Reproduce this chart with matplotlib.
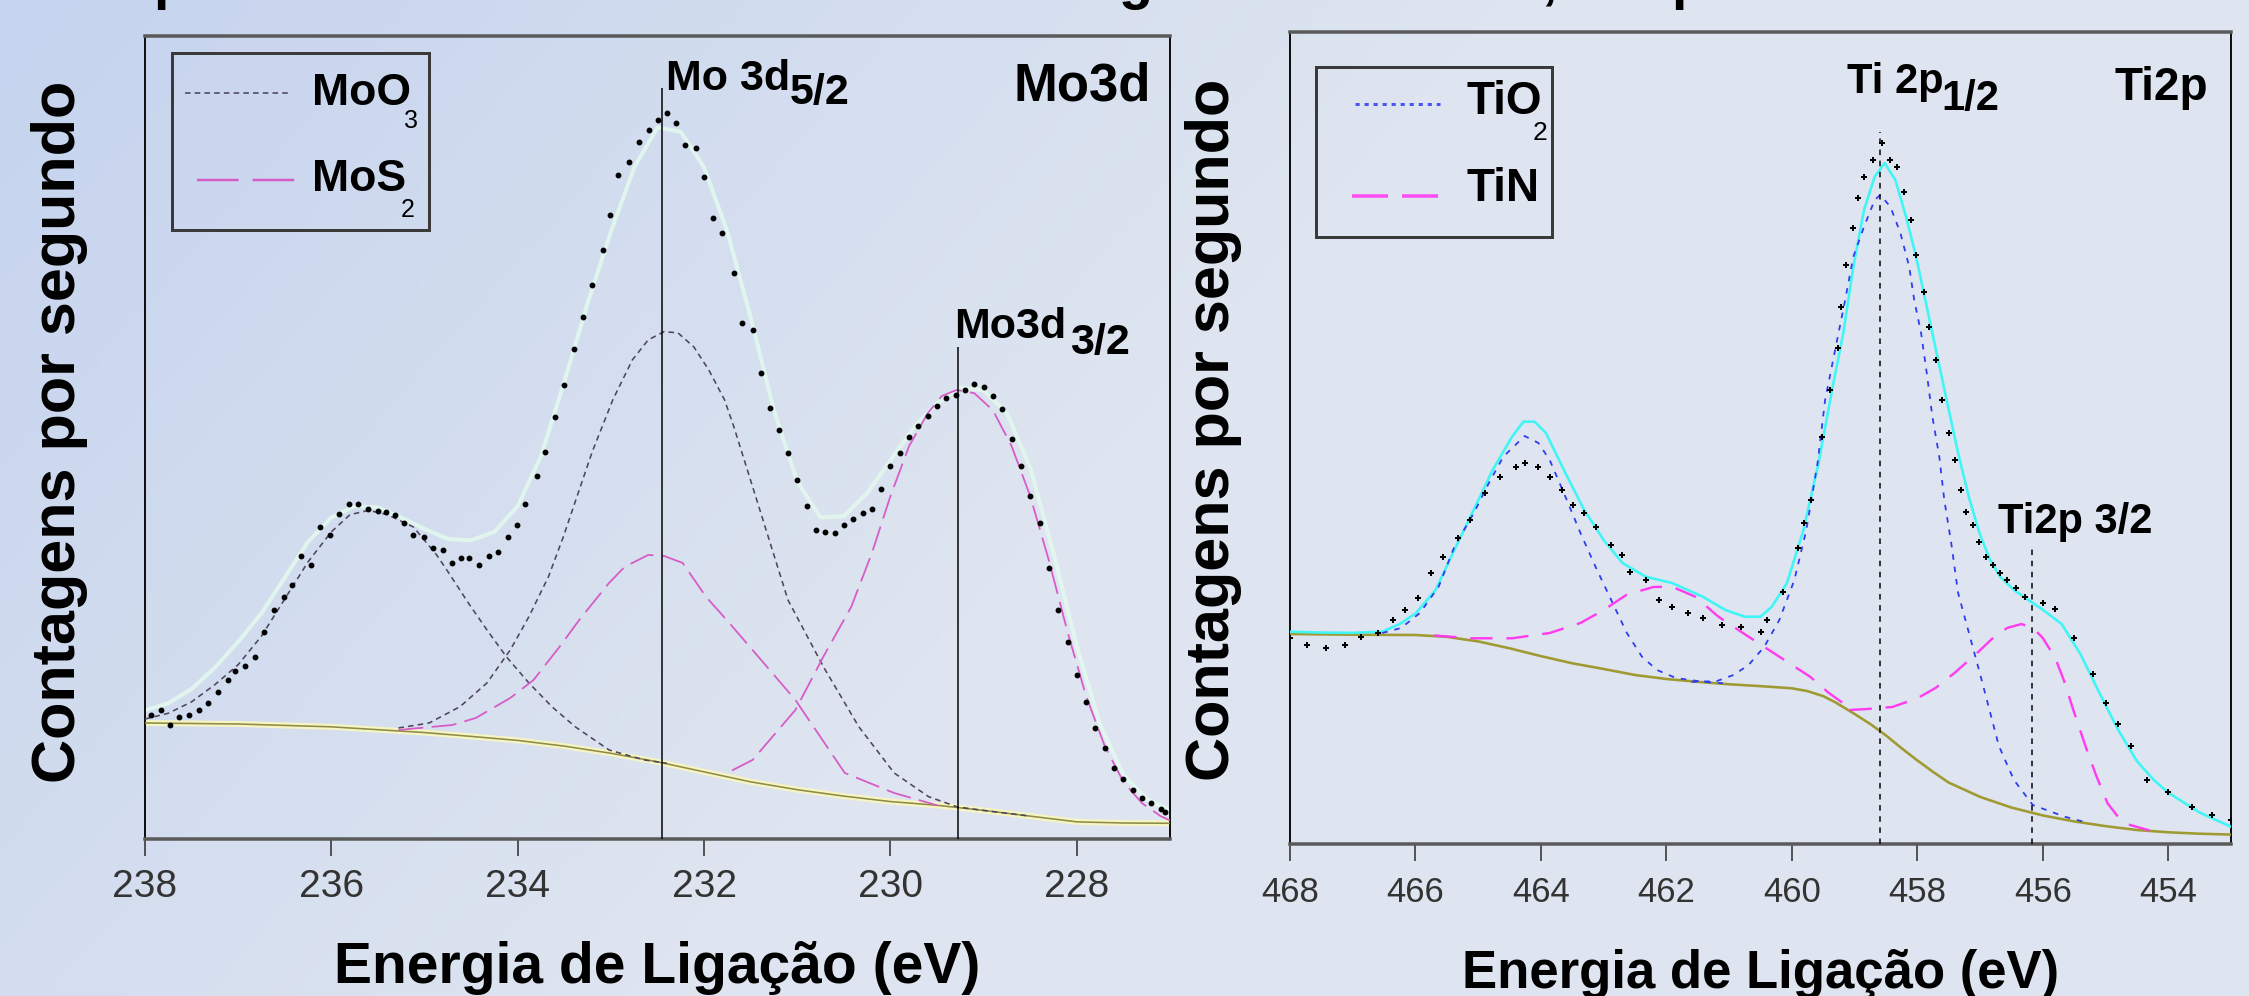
import numpy as np
import matplotlib.pyplot as plt
from matplotlib.patches import Rectangle

plt.rcParams['lines.scale_dashes'] = False

W, H, DPI = 2249, 996, 100
PT = 72 / DPI  # pixels -> points
SANS = ['Liberation Sans', 'DejaVu Sans']

# ================= Mo3d data (binding energy eV, counts) =================
mo_e = [237.94, 237.83, 237.73, 237.63, 237.53, 237.42, 237.32, 237.22, 237.11, 237.03,
        236.93, 236.82, 236.72, 236.62, 236.51, 236.42, 236.33, 236.22, 236.12, 236.02,
        235.92, 235.81, 235.71, 235.61, 235.50, 235.41, 235.32, 235.22, 235.12, 235.01,
        234.91, 234.80, 234.71, 234.61, 234.52, 234.42, 234.31, 234.21, 234.10, 234.01,
        233.92, 233.79, 233.71, 233.60, 233.50, 233.40, 233.30, 233.20, 233.08, 233.01,
        232.92, 232.81, 232.70, 232.59, 232.49, 232.40, 232.30, 232.20, 232.09, 232.00,
        231.90, 231.81, 231.68, 231.59, 231.48, 231.39, 231.29, 231.20, 231.10, 231.00,
        230.90, 230.80, 230.70, 230.60, 230.50, 230.40, 230.30, 230.20, 230.10, 230.00,
        229.90, 229.80, 229.70, 229.60, 229.50, 229.40, 229.30, 229.20, 229.10, 229.00,
        228.90, 228.80, 228.70, 228.60, 228.50, 228.40, 228.30, 228.20, 228.10, 228.00,
        227.90, 227.80, 227.70, 227.60, 227.50, 227.40, 227.30, 227.20, 227.10, 227.05]
mo_counts = [868, 903, 798, 856, 868, 903, 952, 1031, 1113, 1178,
             1211, 1276, 1451, 1603, 1696, 1778, 1981, 1918, 2186, 2128,
             2275, 2345, 2345, 2310, 2298, 2291, 2268, 2212, 2128, 2114,
             2037, 2023, 1932, 1967, 1967, 1918, 1981, 2011, 2114, 2198,
             2345, 2541, 2711, 2950, 3180, 3430, 3650, 3880, 4123, 4368,
             4648, 4741, 4881, 4963, 5033, 5082, 5012, 4858, 4837, 4636,
             4347, 4242, 3962, 3612, 3563, 3262, 3017, 2863, 2700, 2510,
             2330, 2163, 2150, 2140, 2200, 2240, 2280, 2310, 2450, 2610,
             2700, 2810, 2890, 2960, 3030, 3083, 3110, 3140, 3185, 3163,
             3100, 3012, 2800, 2610, 2400, 2209, 1900, 1600, 1380, 1150,
             960, 780, 640, 500, 420, 340, 290, 250, 210, 190]

mo_fit_e = [238.0, 237.75, 237.5, 237.25, 237.0, 236.75, 236.5, 236.25, 236.0, 235.75,
            235.5, 235.25, 235.0, 234.75, 234.5, 234.25, 234.0, 233.75, 233.5, 233.25,
            233.0, 232.75, 232.5, 232.25, 232.0, 231.75, 231.5, 231.25, 231.0, 230.75,
            230.5, 230.25, 230.0, 229.75, 229.5, 229.25, 229.0, 228.75, 228.5, 228.25,
            228.0, 227.75, 227.5, 227.25, 227.0]
mo_fit = [900, 950, 1050, 1200, 1380, 1580, 1830, 2080, 2250, 2330,
          2320, 2250, 2170, 2100, 2090, 2150, 2330, 2680, 3200, 3750,
          4250, 4700, 4980, 4950, 4700, 4250, 3650, 3000, 2500, 2250,
          2260, 2420, 2650, 2880, 3050, 3160, 3140, 2980, 2600, 2000,
          1350, 800, 450, 280, 200]

mo_bg_e = [238.0, 237.0, 236.0, 235.5, 235.0, 234.5, 234.0, 233.5, 233.0, 232.5,
           232.0, 231.5, 231.0, 230.5, 230.0, 229.5, 229.0, 228.5, 228.0, 227.5, 227.0]
mo_bg = [812, 805, 785, 765, 745, 718, 690, 650, 600, 540,
         470, 400, 345, 300, 262, 236, 200, 160, 120, 112, 110]

moo3_a_e = [238.0, 237.75, 237.5, 237.25, 237.0, 236.75, 236.5, 236.25, 236.0, 235.8,
            235.6, 235.4, 235.12, 234.87, 234.74, 234.53, 234.33, 234.12, 233.88, 233.63,
            233.38, 233.02, 232.64, 232.4]
moo3_a = [840, 880, 960, 1080, 1220, 1420, 1680, 1940, 2150, 2270,
          2300, 2270, 2184, 1988, 1862, 1652, 1463, 1274, 1092, 924,
          784, 623, 553, 530]

moo3_b_e = [235.28, 234.95, 234.62, 234.33, 234.08, 233.88, 233.67, 233.51, 233.34, 233.2,
            232.98, 232.77, 232.6, 232.43, 232.28, 232.11, 231.95, 231.78, 231.68, 231.4,
            231.1, 230.72, 230.34, 229.96, 229.59, 229.28, 229.0, 228.5]
moo3_b = [777, 812, 926, 1092, 1323, 1556, 1836, 2116, 2443, 2711,
          3073, 3353, 3493, 3551, 3542, 3444, 3283, 3073, 2884, 2300,
          1673, 1206, 786, 462, 296, 224, 200, 160]

mos2_c_e = [235.28, 234.7, 234.45, 234.08, 233.83, 233.55, 233.34, 233.02, 232.85, 232.6,
            232.43, 232.23, 231.98, 231.73, 231.48, 231.02, 230.49, 229.96, 229.5]
mos2_c = [763, 798, 847, 987, 1113, 1346, 1533, 1792, 1906, 1988,
          1981, 1932, 1696, 1512, 1323, 973, 462, 322, 236]

mos2_d_e = [231.7, 231.48, 231.02, 230.72, 230.42, 230.2, 230.0, 229.8, 229.6, 229.45,
            229.29, 229.1, 228.9, 228.7, 228.5, 228.3, 228.1, 227.9, 227.7, 227.5,
            227.3, 227.1, 227.0]
mos2_d = [480, 553, 903, 1276, 1626, 2000, 2400, 2750, 2980, 3100,
          3143, 3120, 3000, 2750, 2400, 1950, 1450, 1000, 650, 400,
          250, 160, 130]

mo_peak_e = [232.45, 229.28]
mo_peak_top = [5257, 3444]
mo_ticks = [238, 236, 234, 232, 230, 228]

# ================= Ti2p data =================
ti_e = [468.0, 467.73, 467.43, 467.12, 466.87, 466.6, 466.36, 466.17, 465.96, 465.75,
        465.56, 465.32, 465.13, 464.89, 464.65, 464.4, 464.26, 464.04, 463.86, 463.67,
        463.49, 463.31, 463.13, 462.88, 462.7, 462.58, 462.33, 462.12, 461.91, 461.66,
        461.42, 461.11, 460.81, 460.5, 460.39, 460.14, 459.91, 459.8, 459.69, 459.52,
        459.39, 459.27, 459.21, 459.13, 459.02, 458.94, 458.85, 458.71, 458.57, 458.43,
        458.32, 458.21, 458.1, 458.02, 457.9, 457.81, 457.7, 457.6, 457.5, 457.4,
        457.31, 457.22, 457.12, 457.01, 456.9, 456.79, 456.68, 456.57, 456.42, 456.29,
        456.0, 455.8, 455.5, 455.2, 455.0, 454.8, 454.6, 454.34, 454.0, 453.62,
        453.3, 453.0]
ti_counts = [1440, 1393, 1372, 1393, 1451, 1477, 1568, 1638, 1722, 1897,
             2011, 2142, 2268, 2457, 2571, 2641, 2669, 2641, 2571, 2478,
             2373, 2317, 2221, 2093, 2023, 1906, 1848, 1708, 1661, 1617,
             1582, 1533, 1521, 1486, 1568, 1766, 2072, 2247, 2408, 2851,
             3178, 3472, 3761, 4053, 4312, 4522, 4671, 4788, 4907, 4788,
             4741, 4566, 4368, 4123, 3866, 3621, 3388, 3108, 2877, 2688,
             2478, 2326, 2233, 2116, 2011, 1953, 1897, 1848, 1792, 1731,
             1690, 1642, 1442, 1190, 987, 840, 686, 448, 367, 261,
             200, 168]

ti_fit_e = [468.0, 467.5, 467.0, 466.53, 466.25, 465.99, 465.68, 465.38, 465.07, 464.77,
            464.46, 464.28, 464.1, 463.92, 463.61, 463.31, 463.0, 462.7, 462.33, 461.91,
            461.42, 461.06, 460.75, 460.5, 460.32, 460.08, 459.82, 459.58, 459.35, 459.18,
            459.02, 458.85, 458.68, 458.52, 458.35, 458.18, 458.02, 457.85, 457.68, 457.51,
            457.35, 457.18, 457.01, 456.84, 456.68, 456.46, 456.23, 456.0, 455.7, 455.4,
            455.1, 454.8, 454.5, 454.23, 454.0, 453.5, 453.0]
ti_fit = [1486, 1480, 1478, 1486, 1540, 1617, 1778, 2058, 2340, 2618,
          2851, 2956, 2956, 2877, 2597, 2338, 2128, 1967, 1871, 1827,
          1731, 1638, 1591, 1591, 1661, 1825, 2190, 2655, 3200, 3577,
          4041, 4438, 4671, 4767, 4648, 4391, 4111, 3761, 3411, 3061,
          2737, 2431, 2177, 1988, 1871, 1778, 1708, 1640, 1540, 1330,
          1060, 800, 580, 448, 360, 220, 121]

ti_bg_e = [468.0, 467.0, 466.0, 465.5, 465.0, 464.5, 464.0, 463.5, 463.0, 462.5,
           462.0, 461.5, 461.0, 460.5, 460.0, 459.75, 459.5, 459.3, 459.0, 458.75,
           458.5, 458.25, 458.0, 457.75, 457.5, 457.0, 456.5, 456.0, 455.5, 455.0,
           454.5, 454.0, 453.5, 453.0]
ti_bg = [1470, 1465, 1463, 1450, 1418, 1370, 1315, 1265, 1225, 1183,
         1155, 1135, 1118, 1105, 1090, 1070, 1035, 990, 910, 840,
         760, 670, 585, 505, 430, 330, 255, 200, 158, 125,
         98, 82, 72, 66]

tio2_a_e = [466.53, 466.23, 465.93, 465.63, 465.38, 465.07, 464.83, 464.6, 464.26, 464.04,
            463.86, 463.61, 463.37, 463.13, 462.88, 462.63, 462.39, 462.15, 461.85, 461.42,
            461.1]
tio2_a = [1477, 1512, 1617, 1801, 2081, 2317, 2527, 2711, 2856, 2807,
          2688, 2431, 2177, 1941, 1708, 1477, 1311, 1218, 1162, 1136,
          1125]

tio2_b_e = [461.6, 461.2, 460.93, 460.69, 460.44, 460.2, 459.96, 459.77, 459.59, 459.47,
            459.3, 459.16, 459.02, 458.85, 458.68, 458.59, 458.43, 458.27, 458.13, 458.05,
            457.94, 457.85, 457.76, 457.65, 457.57, 457.46, 457.35, 457.0, 456.7, 456.46,
            456.16, 455.65, 455.3]
tio2_b = [1135, 1140, 1183, 1253, 1381, 1568, 1848, 2198, 2667, 3108,
          3481, 3787, 4111, 4321, 4508, 4543, 4461, 4277, 4041, 3808,
          3577, 3297, 2991, 2711, 2408, 2107, 1757, 1190, 686, 448,
          273, 191, 150]

tin_a_e = [465.7, 465.13, 464.46, 463.86, 463.37, 463.0, 462.64, 462.21, 461.91, 461.54,
           461.17, 460.69, 460.2, 459.71, 459.41, 459.1]
tin_a = [1460, 1440, 1440, 1477, 1547, 1638, 1743, 1799, 1801, 1731,
         1591, 1451, 1311, 1171, 1057, 960]

tin_b_e = [459.08, 458.8, 458.4, 458.0, 457.71, 457.4, 457.03, 456.8, 456.57, 456.34,
           456.15, 456.0, 455.8, 455.66, 455.5, 455.32, 455.15, 454.97, 454.8, 454.63,
           454.3]
tin_b = [938, 945, 959, 1020, 1092, 1200, 1344, 1440, 1512, 1540,
         1510, 1442, 1300, 1141, 920, 686, 480, 287, 190, 136,
         95]

ti_peak_e = [458.6, 456.17]
ti_peak_top = [4984, 2079]
ti_ticks = [468, 466, 464, 462, 460, 458, 456, 454]

# ================= figure =================
fig = plt.figure(figsize=(W / DPI, H / DPI), dpi=DPI)

# slide background gradient
bg = fig.add_axes([0, 0, 1, 1], zorder=-10)
gx, gy = np.meshgrid(np.linspace(0, 1, 450), np.linspace(0, 1, 200))
t = np.clip((0.9 * gx + 0.35 * gy) / 0.6, 0, 1)[..., None]
c0 = np.array([197, 211, 238]) / 255
c1 = np.array([222, 229, 240]) / 255
bg.imshow(c0 * (1 - t) + c1 * t, aspect='auto', extent=[0, 1, 0, 1], origin='upper')
bg.axis('off')

axL = fig.add_axes([145 / W, 1 - 839 / H, 1025 / W, 803 / H], facecolor='none')
axR = fig.add_axes([1290 / W, 1 - 844 / H, 941 / W, 812 / H], facecolor='none')


def style(ax, xlim, ylim, ticks, tsize, pad):
    ax.set_xlim(xlim)
    ax.set_ylim(ylim)
    ax.set_xticks(ticks)
    ax.set_yticks([])
    for s in ['top', 'bottom']:
        ax.spines[s].set_color('#5a5a5a')
        ax.spines[s].set_linewidth(3.5 * PT)
    for s in ['left', 'right']:
        ax.spines[s].set_color('#111111')
        ax.spines[s].set_linewidth(2 * PT)
    ax.tick_params(axis='x', direction='out', length=17 * PT, width=1.6 * PT,
                   color='#333333', labelsize=tsize, labelcolor='#333333', pad=pad,
                   labelfontfamily=SANS)


# ---------- Mo3d panel ----------
style(axL, (238, 227), (0, 5620), mo_ticks, 28, 9)
axL.plot(mo_bg_e, mo_bg, color='#f7f5c2', lw=6 * PT, solid_capstyle='butt', zorder=2)
axL.plot(mo_bg_e, mo_bg, color='#8e8c48', lw=1.6 * PT, zorder=3)
axL.plot(mo_fit_e, mo_fit, color='#e2f8ee', lw=4 * PT, alpha=0.9, zorder=2)
axL.plot(moo3_a_e, moo3_a, color='#4e4660', lw=1.6 * PT, dashes=(4, 3), zorder=4)
axL.plot(moo3_b_e, moo3_b, color='#4e4660', lw=1.6 * PT, dashes=(4, 3), zorder=4)
axL.plot(mos2_c_e, mos2_c, color='#d65cc8', lw=1.8 * PT, dashes=(18, 6), zorder=4)
axL.plot(mos2_d_e, mos2_d, color='#d65cc8', lw=1.8 * PT, dashes=(18, 6), zorder=4)
axL.plot(mo_e, mo_counts, 'o', color='black', ms=3.2, zorder=5)
axL.vlines(mo_peak_e, 0, mo_peak_top, color='black', lw=1.5 * PT, zorder=6)

lab = dict(fontsize=31, weight='bold', family=SANS, va='baseline', ha='left')
axL.annotate('Mo 3d', (mo_peak_e[0], mo_peak_top[0]), xytext=(4 * PT, -2 * PT),
             textcoords='offset points', **lab)
axL.annotate('5/2', (mo_peak_e[0], mo_peak_top[0]), xytext=(128 * PT, -16 * PT),
             textcoords='offset points', **lab)
axL.annotate('Mo3d', (mo_peak_e[1], mo_peak_top[1]), xytext=(-3 * PT, 9 * PT),
             textcoords='offset points', **lab)
axL.annotate('3/2', (mo_peak_e[1], mo_peak_top[1]), xytext=(112 * PT, -7 * PT),
             textcoords='offset points', **lab)
axL.text(0.981, 0.920, 'Mo3d', transform=axL.transAxes, ha='right', va='baseline',
         fontsize=38, weight='bold', family=SANS)

# legend Mo3d
axL.add_patch(Rectangle((0.0263, 0.758), 0.2507, 0.221, transform=axL.transAxes,
                        fill=False, ec='#3a3a3a', lw=3 * PT, zorder=7))
axL.plot([0.039, 0.1415], [0.929, 0.929], transform=axL.transAxes, color='#4e4660',
         lw=1.6 * PT, dashes=(4, 3), zorder=7)
axL.plot([0.0507, 0.146], [0.8207, 0.8207], transform=axL.transAxes, color='#d65cc8',
         lw=2.5 * PT, dashes=(30, 10), zorder=7)
leg = dict(transform=axL.transAxes, fontsize=32, weight='bold', family=SANS,
           va='center', ha='left', zorder=7)
axL.text(0.163, 0.929, 'MoO', **leg)
axL.text(0.163, 0.8207, 'MoS', **leg)
sub = dict(transform=axL.transAxes, fontsize=18, family=SANS, va='baseline',
           ha='left', zorder=7)
axL.text((404 - 145) / 1025, (839 - 128) / 803, '3', **sub)
axL.text((401 - 145) / 1025, (839 - 217) / 803, '2', **sub)

# ---------- Ti2p panel ----------
style(axR, (468, 453), (0, 5684), ti_ticks, 25, 11)
axR.plot(ti_bg_e, ti_bg, color='#a09a32', lw=2.6 * PT, zorder=3)
axR.plot(ti_fit_e, ti_fit, color='#3ff5f5', lw=2.6 * PT, zorder=3)
axR.plot(tio2_a_e, tio2_a, color='#2f3cf0', lw=1.8 * PT, dashes=(4, 5), zorder=4)
axR.plot(tio2_b_e, tio2_b, color='#2f3cf0', lw=1.8 * PT, dashes=(4, 5), zorder=4)
axR.plot(tin_a_e, tin_a, color='#ff3cf0', lw=2.4 * PT, dashes=(16, 10), zorder=4)
axR.plot(tin_b_e, tin_b, color='#ff3cf0', lw=2.4 * PT, dashes=(16, 10), zorder=4)
axR.plot(ti_e, ti_counts, 'P', color='black', ms=4, mew=0, zorder=5)
axR.vlines(ti_peak_e, 0, ti_peak_top, color='black', lw=1.5 * PT,
           linestyles=(0, (4, 4)), zorder=6)

labR = dict(fontsize=30, weight='bold', family=SANS, va='baseline', ha='left')
axR.annotate('Ti 2p', (ti_peak_e[0], ti_peak_top[0]), xytext=(-33 * PT, 39 * PT),
             textcoords='offset points', **labR)
axR.annotate('1/2', (ti_peak_e[0], ti_peak_top[0]), xytext=(62 * PT, 22 * PT),
             textcoords='offset points', **labR)
axR.annotate('Ti2p 3/2', (ti_peak_e[1], ti_peak_top[1]), xytext=(-34 * PT, 14 * PT),
             textcoords='offset points', fontsize=30, weight='bold', family=SANS,
             va='baseline', ha='left')
axR.text((2208 - 1290) / 941, (844 - 100) / 812, 'Ti2p', transform=axR.transAxes,
         ha='right', va='baseline', fontsize=33, weight='bold', family=SANS)

# legend Ti2p
axR.add_patch(Rectangle((0.0276, 0.7475), 0.2508, 0.2094, transform=axR.transAxes,
                        fill=False, ec='#3a3a3a', lw=3 * PT, zorder=7))
axR.plot([0.069, 0.159], [0.9113, 0.9113], transform=axR.transAxes, color='#4a55f5',
         lw=3 * PT, dashes=(3, 3.5), zorder=7)
axR.plot([0.066, 0.1615], [0.798, 0.798], transform=axR.transAxes, color='#ff4cf4',
         lw=3.5 * PT, dashes=(26, 10), zorder=7)
legR = dict(transform=axR.transAxes, fontsize=33, weight='bold', family=SANS,
            va='center', ha='left', zorder=7)
axR.text(0.188, 0.9144, 'TiO', **legR)
axR.text(0.188, 0.8072, 'TiN', **legR)
axR.text((1533 - 1290) / 941, (844 - 140) / 812, '2', transform=axR.transAxes,
         fontsize=19, family=SANS, va='baseline', ha='left', zorder=7)

# axis labels
fig.text(60 / W, 1 - 432 / H, 'Contagens por segundo', rotation=90, ha='center',
         va='center', fontsize=44, weight='bold', family=SANS)
fig.text(1213 / W, 1 - 430 / H, 'Contagens por segundo', rotation=90, ha='center',
         va='center', fontsize=44, weight='bold', family=SANS)
fig.text(657 / W, 1 - 983 / H, 'Energia de Ligação (eV)', ha='center', va='baseline',
         fontsize=41, weight='bold', family=SANS)
fig.text(1761 / W, 1 - 988 / H, 'Energia de Ligação (eV)', ha='center', va='baseline',
         fontsize=38, weight='bold', family=SANS)

# descenders of the slide title cut off above the picture
top = dict(va='baseline', ha='center', fontsize=40, weight='bold', family=SANS)
for ch, xp in zip(['p', 'g', ',', 'p'], [170, 1136, 1549, 1688]):
    fig.text(xp / W, 1 + 2 / H, ch, **top)

fig.savefig('out.png', dpi=DPI)
